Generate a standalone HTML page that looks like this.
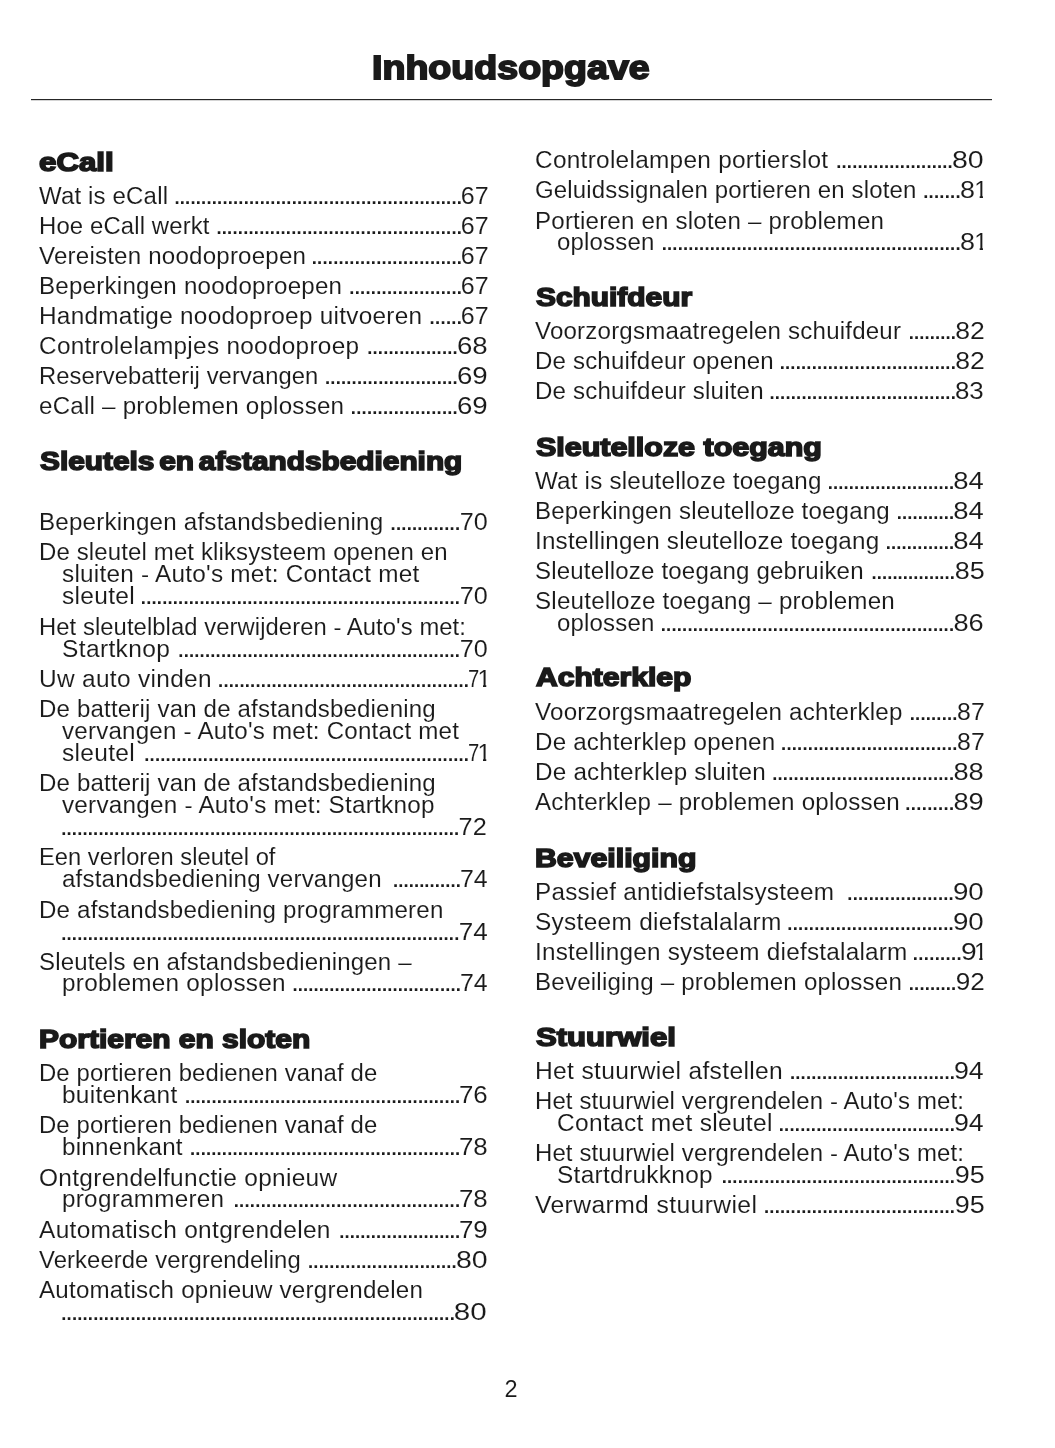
<!DOCTYPE html>
<html lang="nl"><head><meta charset="utf-8"><title>Inhoudsopgave</title>
<style>
html,body{margin:0;padding:0;background:#fff}
body{width:1055px;height:1448px;position:relative;overflow:hidden;will-change:transform;color:#1a1a1a;font-family:"Liberation Sans", sans-serif}
span{position:absolute;white-space:pre;display:block}
.t{transform-origin:0 50%;font-size:23.5px;line-height:30px;-webkit-text-stroke:0.08px #fff}
.n{transform-origin:100% 50%;font-size:24px}
.g{position:static;display:inline-block;transform-origin:0 50%}
.one{clip-path:polygon(0 0,100% 0,100% 20.5px,8.7px 20.5px,8.7px 100%,5.4px 100%,5.4px 20.5px,0 20.5px)}
.d{font-weight:bold;font-size:18.5px;line-height:30px}
.h{transform-origin:0 50%;font-weight:bold;font-size:26px;line-height:30px;-webkit-text-stroke:1.6px #1a1a1a}
.ti{transform-origin:0 50%;font-weight:bold;font-size:33px;line-height:44px;-webkit-text-stroke:1.8px #1a1a1a}
.rule{position:absolute;left:31.4px;top:99px;width:960.6px;height:1px;background:#262626}
.rule2{position:absolute;left:31.4px;top:100px;width:960.6px;height:1px;background:#d4d4d4}
</style></head>
<body>
<div class="rule"></div><div class="rule2"></div>
<span class="t" style="left:39.4px;top:181px;letter-spacing:0.16px;transform:scaleX(1.0215)">Wat is eCall</span>
<span class="t n" style="left:462.25px;top:181px;transform:scaleX(1.043)">67</span>
<span class="d" style="left:174.45px;top:183px;letter-spacing:0.187px">......................................................</span>
<span class="t" style="left:39.4px;top:211px;letter-spacing:0.13px;transform:scaleX(1.0165)">Hoe eCall werkt</span>
<span class="t n" style="left:462.25px;top:211px;transform:scaleX(1.043)">67</span>
<span class="d" style="left:216.45px;top:213px;letter-spacing:0.200px">..............................................</span>
<span class="t" style="left:39.4px;top:241px;letter-spacing:0.2px;transform:scaleX(1.0256)">Vereisten noodoproepen</span>
<span class="t n" style="left:462.25px;top:241px;transform:scaleX(1.043)">67</span>
<span class="d" style="left:311.65px;top:243px;letter-spacing:0.235px">............................</span>
<span class="t" style="left:39.4px;top:271px;letter-spacing:0.22px;transform:scaleX(1.0267)">Beperkingen noodoproepen</span>
<span class="t n" style="left:462.25px;top:271px;transform:scaleX(1.043)">67</span>
<span class="d" style="left:349.25px;top:273px;letter-spacing:0.237px">.....................</span>
<span class="t" style="left:39.4px;top:301px;letter-spacing:0.27px;transform:scaleX(1.0353)">Handmatige noodoproep uitvoeren</span>
<span class="t n" style="left:462.25px;top:301px;transform:scaleX(1.043)">67</span>
<span class="d" style="left:429.5px;top:303px;letter-spacing:0.319px">......</span>
<span class="t" style="left:39.4px;top:331px;letter-spacing:0.28px;transform:scaleX(1.0366)">Controlelampjes noodoproep</span>
<span class="t n" style="left:460.79px;top:331px;transform:scaleX(1.151)">68</span>
<span class="d" style="left:367.15px;top:333px;letter-spacing:0.200px">.................</span>
<span class="t" style="left:39.4px;top:361px;letter-spacing:0.08px;transform:scaleX(1.0108)">Reservebatterij vervangen</span>
<span class="t n" style="left:460.79px;top:361px;transform:scaleX(1.151)">69</span>
<span class="d" style="left:325.05px;top:363px;letter-spacing:0.174px">.........................</span>
<span class="t" style="left:39.4px;top:391px;letter-spacing:0.21px;transform:scaleX(1.0286)">eCall – problemen oplossen</span>
<span class="t n" style="left:460.79px;top:391px;transform:scaleX(1.151)">69</span>
<span class="d" style="left:350.85px;top:393px;letter-spacing:0.215px">....................</span>
<span class="t" style="left:39.4px;top:507px;letter-spacing:0.21px;transform:scaleX(1.0270)">Beperkingen afstandsbediening</span>
<span class="t n" style="left:460.5px;top:507px;transform:scaleX(1.049)">70</span>
<span class="d" style="left:390.55px;top:509px;letter-spacing:0.222px">.............</span>
<span class="t" style="left:39.4px;top:537px;letter-spacing:0.14px;transform:scaleX(1.0196)">De sleutel met kliksysteem openen en</span>
<span class="t" style="left:61.8px;top:559px;letter-spacing:0.24px;transform:scaleX(1.0348)">sluiten - Auto&#x27;s met: Contact met</span>
<span class="t" style="left:61.8px;top:581px;letter-spacing:0.3px;transform:scaleX(1.0424)">sleutel</span>
<span class="t n" style="left:460.5px;top:581px;transform:scaleX(1.049)">70</span>
<span class="d" style="left:140.85px;top:583px;letter-spacing:0.182px">............................................................</span>
<span class="t" style="left:39.4px;top:612px;letter-spacing:0.08px;transform:scaleX(1.0122)">Het sleutelblad verwijderen - Auto&#x27;s met:</span>
<span class="t" style="left:61.8px;top:634px;letter-spacing:0.35px;transform:scaleX(1.0436)">Startknop</span>
<span class="t n" style="left:460.5px;top:634px;transform:scaleX(1.049)">70</span>
<span class="d" style="left:178.35px;top:636px;letter-spacing:0.178px">.....................................................</span>
<span class="t" style="left:39.4px;top:664px;letter-spacing:0.31px;transform:scaleX(1.0393)">Uw auto vinden</span>
<span class="t n" style="left:468.44px;top:664px"><span class="g" style="transform:scaleX(0.845)">7</span><span class="g one" style="margin-left:-4.23px">1</span></span>
<span class="d" style="left:218.05px;top:666px;letter-spacing:0.204px">...............................................</span>
<span class="t" style="left:39.4px;top:694px;letter-spacing:0.17px;transform:scaleX(1.0238)">De batterij van de afstandsbediening</span>
<span class="t" style="left:61.8px;top:716px;letter-spacing:0.2px;transform:scaleX(1.0278)">vervangen - Auto&#x27;s met: Contact met</span>
<span class="t" style="left:61.8px;top:738px;letter-spacing:0.3px;transform:scaleX(1.0424)">sleutel</span>
<span class="t n" style="left:468.44px;top:738px"><span class="g" style="transform:scaleX(0.845)">7</span><span class="g one" style="margin-left:-4.23px">1</span></span>
<span class="d" style="left:144.25px;top:740px;letter-spacing:0.187px">.............................................................</span>
<span class="t" style="left:39.4px;top:768px;letter-spacing:0.17px;transform:scaleX(1.0238)">De batterij van de afstandsbediening</span>
<span class="t" style="left:61.8px;top:790px;letter-spacing:0.23px;transform:scaleX(1.0326)">vervangen - Auto&#x27;s met: Startknop</span>
<span class="t n" style="left:459.86px;top:812px;transform:scaleX(1.054)">72</span>
<span class="d" style="left:61.25px;top:814px;letter-spacing:0.169px">...........................................................................</span>
<span class="t" style="left:39.4px;top:842px;letter-spacing:0.05px;transform:scaleX(1.0064)">Een verloren sleutel of</span>
<span class="t" style="left:61.8px;top:864px;letter-spacing:0.19px;transform:scaleX(1.0244)">afstandsbediening vervangen</span>
<span class="t n" style="left:461.03px;top:864px;transform:scaleX(1.038)">74</span>
<span class="d" style="left:393.06px;top:866px;letter-spacing:0.079px">.............</span>
<span class="t" style="left:39.4px;top:895px;letter-spacing:0.2px;transform:scaleX(1.0251)">De afstandsbediening programmeren</span>
<span class="t n" style="left:460.76px;top:917px;transform:scaleX(1.087)">74</span>
<span class="d" style="left:61.25px;top:919px;letter-spacing:0.170px">...........................................................................</span>
<span class="t" style="left:39.4px;top:947px;letter-spacing:0.16px;transform:scaleX(1.0222)">Sleutels en afstandsbedieningen –</span>
<span class="t" style="left:61.8px;top:968px;letter-spacing:0.27px;transform:scaleX(1.0338)">problemen oplossen</span>
<span class="t n" style="left:461.03px;top:968px;transform:scaleX(1.038)">74</span>
<span class="d" style="left:292.45px;top:970px;letter-spacing:0.126px">................................</span>
<span class="t" style="left:39.4px;top:1058px;letter-spacing:0.12px;transform:scaleX(1.0164)">De portieren bedienen vanaf de</span>
<span class="t" style="left:61.8px;top:1080px;letter-spacing:0.29px;transform:scaleX(1.0371)">buitenkant</span>
<span class="t n" style="left:461.37px;top:1080px;transform:scaleX(1.078)">76</span>
<span class="d" style="left:184.95px;top:1082px;letter-spacing:0.155px">....................................................</span>
<span class="t" style="left:39.4px;top:1110px;letter-spacing:0.12px;transform:scaleX(1.0164)">De portieren bedienen vanaf de</span>
<span class="t" style="left:61.8px;top:1132px;letter-spacing:0.24px;transform:scaleX(1.0292)">binnenkant</span>
<span class="t n" style="left:461.37px;top:1132px;transform:scaleX(1.078)">78</span>
<span class="d" style="left:190.05px;top:1134px;letter-spacing:0.159px">...................................................</span>
<span class="t" style="left:39.4px;top:1163px;letter-spacing:0.3px;transform:scaleX(1.0397)">Ontgrendelfunctie opnieuw</span>
<span class="t" style="left:61.8px;top:1184px;letter-spacing:0.28px;transform:scaleX(1.0312)">programmeren</span>
<span class="t n" style="left:461.37px;top:1184px;transform:scaleX(1.078)">78</span>
<span class="d" style="left:233.65px;top:1186px;letter-spacing:0.259px">..........................................</span>
<span class="t" style="left:39.4px;top:1215px;letter-spacing:0.31px;transform:scaleX(1.0403)">Automatisch ontgrendelen</span>
<span class="t n" style="left:461.37px;top:1215px;transform:scaleX(1.078)">79</span>
<span class="d" style="left:339.25px;top:1217px;letter-spacing:0.123px">.......................</span>
<span class="t" style="left:39.4px;top:1245px;letter-spacing:0.1px;transform:scaleX(1.0132)">Verkeerde vergrendeling</span>
<span class="t n" style="left:461.03px;top:1245px;transform:scaleX(1.188)">80</span>
<span class="d" style="left:308.05px;top:1247px;letter-spacing:0.176px">............................</span>
<span class="t" style="left:39.4px;top:1275px;letter-spacing:0.21px;transform:scaleX(1.0276)">Automatisch opnieuw vergrendelen</span>
<span class="t n" style="left:460.27px;top:1297px;transform:scaleX(1.232)">80</span>
<span class="d" style="left:61.25px;top:1299px;letter-spacing:0.181px">..........................................................................</span>
<span class="t" style="left:534.8px;top:145px;letter-spacing:0.27px;transform:scaleX(1.0379)">Controlelampen portierslot</span>
<span class="t n" style="left:957.03px;top:145px;transform:scaleX(1.188)">80</span>
<span class="d" style="left:836.25px;top:147px;letter-spacing:0.162px">......................</span>
<span class="t" style="left:534.8px;top:175px;letter-spacing:0.15px;transform:scaleX(1.0209)">Geluidssignalen portieren en sloten</span>
<span class="t n" style="left:959.98px;top:175px"><span class="g" style="transform:scaleX(1.120)">8</span><span class="g one" style="margin-left:0.94px">1</span></span>
<span class="d" style="left:923.15px;top:177px;letter-spacing:0.251px">.......</span>
<span class="t" style="left:534.8px;top:206px;letter-spacing:0.19px;transform:scaleX(1.0258)">Portieren en sloten – problemen</span>
<span class="t" style="left:557.2px;top:227px;letter-spacing:0.18px;transform:scaleX(1.0204)">oplossen</span>
<span class="t n" style="left:959.98px;top:227px"><span class="g" style="transform:scaleX(1.120)">8</span><span class="g one" style="margin-left:0.94px">1</span></span>
<span class="d" style="left:661.65px;top:229px;letter-spacing:0.202px">........................................................</span>
<span class="t" style="left:534.8px;top:316px;letter-spacing:0.19px;transform:scaleX(1.0248)">Voorzorgsmaatregelen schuifdeur</span>
<span class="t n" style="left:958.03px;top:316px;transform:scaleX(1.106)">82</span>
<span class="d" style="left:908.85px;top:318px;letter-spacing:0.091px">.........</span>
<span class="t" style="left:534.8px;top:346px;letter-spacing:0.18px;transform:scaleX(1.0228)">De schuifdeur openen</span>
<span class="t n" style="left:958.03px;top:346px;transform:scaleX(1.106)">82</span>
<span class="d" style="left:779.65px;top:348px;letter-spacing:0.205px">.................................</span>
<span class="t" style="left:534.8px;top:376px;letter-spacing:0.18px;transform:scaleX(1.0248)">De schuifdeur sluiten</span>
<span class="t n" style="left:957.33px;top:376px;transform:scaleX(1.079)">83</span>
<span class="d" style="left:769.45px;top:378px;letter-spacing:0.190px">...................................</span>
<span class="t" style="left:534.8px;top:466px;letter-spacing:0.2px;transform:scaleX(1.0285)">Wat is sleutelloze toegang</span>
<span class="t n" style="left:957.3px;top:466px;transform:scaleX(1.144)">84</span>
<span class="d" style="left:827.75px;top:468px;letter-spacing:0.131px">........................</span>
<span class="t" style="left:534.8px;top:496px;letter-spacing:0.18px;transform:scaleX(1.0239)">Beperkingen sleutelloze toegang</span>
<span class="t n" style="left:957.3px;top:496px;transform:scaleX(1.144)">84</span>
<span class="d" style="left:896.8px;top:498px;letter-spacing:0.079px">...........</span>
<span class="t" style="left:534.8px;top:526px;letter-spacing:0.2px;transform:scaleX(1.0300)">Instellingen sleutelloze toegang</span>
<span class="t n" style="left:957.3px;top:526px;transform:scaleX(1.144)">84</span>
<span class="d" style="left:885.75px;top:528px;letter-spacing:0.130px">.............</span>
<span class="t" style="left:534.8px;top:556px;letter-spacing:0.17px;transform:scaleX(1.0237)">Sleutelloze toegang gebruiken</span>
<span class="t n" style="left:957.57px;top:556px;transform:scaleX(1.123)">85</span>
<span class="d" style="left:871.5px;top:558px;letter-spacing:0.079px">................</span>
<span class="t" style="left:534.8px;top:586px;letter-spacing:0.21px;transform:scaleX(1.0283)">Sleutelloze toegang – problemen</span>
<span class="t" style="left:557.2px;top:608px;letter-spacing:0.18px;transform:scaleX(1.0204)">oplossen</span>
<span class="t n" style="left:957.08px;top:608px;transform:scaleX(1.135)">86</span>
<span class="d" style="left:660.75px;top:610px;letter-spacing:0.197px">.......................................................</span>
<span class="t" style="left:534.8px;top:697px;letter-spacing:0.21px;transform:scaleX(1.0272)">Voorzorgsmaatregelen achterklep</span>
<span class="t n" style="left:957.74px;top:697px;transform:scaleX(1.033)">87</span>
<span class="d" style="left:909.75px;top:699px;letter-spacing:0.178px">.........</span>
<span class="t" style="left:534.8px;top:727px;letter-spacing:0.21px;transform:scaleX(1.0265)">De achterklep openen</span>
<span class="t n" style="left:957.74px;top:727px;transform:scaleX(1.033)">87</span>
<span class="d" style="left:781.05px;top:729px;letter-spacing:0.211px">.................................</span>
<span class="t" style="left:534.8px;top:757px;letter-spacing:0.22px;transform:scaleX(1.0308)">De achterklep sluiten</span>
<span class="t n" style="left:957.08px;top:757px;transform:scaleX(1.135)">88</span>
<span class="d" style="left:772.15px;top:759px;letter-spacing:0.218px">..................................</span>
<span class="t" style="left:534.8px;top:787px;letter-spacing:0.21px;transform:scaleX(1.0273)">Achterklep – problemen oplossen</span>
<span class="t n" style="left:957.08px;top:787px;transform:scaleX(1.135)">89</span>
<span class="d" style="left:905.35px;top:789px;letter-spacing:0.316px">.........</span>
<span class="t" style="left:534.8px;top:877px;letter-spacing:0.23px;transform:scaleX(1.0328)">Passief antidiefstalsysteem</span>
<span class="t n" style="left:957.1px;top:877px;transform:scaleX(1.154)">90</span>
<span class="d" style="left:847.35px;top:879px;letter-spacing:0.186px">....................</span>
<span class="t" style="left:534.8px;top:907px;letter-spacing:0.29px;transform:scaleX(1.0393)">Systeem diefstalalarm</span>
<span class="t n" style="left:957.1px;top:907px;transform:scaleX(1.154)">90</span>
<span class="d" style="left:787.25px;top:909px;letter-spacing:0.236px">...............................</span>
<span class="t" style="left:534.8px;top:937px;letter-spacing:0.23px;transform:scaleX(1.0336)">Instellingen systeem diefstalalarm</span>
<span class="t n" style="left:960.93px;top:937px"><span class="g" style="transform:scaleX(1.173)">9</span><span class="g one" style="margin-left:-0.41px">1</span></span>
<span class="d" style="left:912.82px;top:939px;letter-spacing:0.319px">.........</span>
<span class="t" style="left:534.8px;top:967px;letter-spacing:0.19px;transform:scaleX(1.0266)">Beveiliging – problemen oplossen</span>
<span class="t n" style="left:957.8px;top:967px;transform:scaleX(1.086)">92</span>
<span class="d" style="left:908.85px;top:969px;letter-spacing:0.128px">.........</span>
<span class="t" style="left:534.8px;top:1056px;letter-spacing:0.31px;transform:scaleX(1.0462)">Het stuurwiel afstellen</span>
<span class="t n" style="left:957.28px;top:1056px;transform:scaleX(1.112)">94</span>
<span class="d" style="left:789.95px;top:1058px;letter-spacing:0.188px">...............................</span>
<span class="t" style="left:534.8px;top:1086px;letter-spacing:0.13px;transform:scaleX(1.0186)">Het stuurwiel vergrendelen - Auto&#x27;s met:</span>
<span class="t" style="left:557.2px;top:1108px;letter-spacing:0.3px;transform:scaleX(1.0425)">Contact met sleutel</span>
<span class="t n" style="left:957.28px;top:1108px;transform:scaleX(1.112)">94</span>
<span class="d" style="left:778.75px;top:1110px;letter-spacing:0.205px">.................................</span>
<span class="t" style="left:534.8px;top:1138px;letter-spacing:0.13px;transform:scaleX(1.0186)">Het stuurwiel vergrendelen - Auto&#x27;s met:</span>
<span class="t" style="left:557.2px;top:1160px;letter-spacing:0.3px;transform:scaleX(1.0379)">Startdrukknop</span>
<span class="t n" style="left:957.57px;top:1160px;transform:scaleX(1.123)">95</span>
<span class="d" style="left:721.75px;top:1162px;letter-spacing:0.163px">............................................</span>
<span class="t" style="left:534.8px;top:1190px;letter-spacing:0.38px;transform:scaleX(1.0495)">Verwarmd stuurwiel</span>
<span class="t n" style="left:957.57px;top:1190px;transform:scaleX(1.123)">95</span>
<span class="d" style="left:764.05px;top:1192px;letter-spacing:0.167px">....................................</span>
<span class="h" style="left:39.4px;top:147px;transform:scaleX(1.202)">eCall</span>
<span class="h" style="left:40.09px;top:446px;transform:scaleX(1.147);word-spacing:-3px">Sleutels en afstandsbediening</span>
<span class="h" style="left:38.94px;top:1024px;transform:scaleX(1.152)">Portieren en sloten</span>
<span class="h" style="left:536.19px;top:282px;transform:scaleX(1.149)">Schuifdeur</span>
<span class="h" style="left:536.19px;top:432px;transform:scaleX(1.171)">Sleutelloze toegang</span>
<span class="h" style="left:536.48px;top:662px;transform:scaleX(1.157)">Achterklep</span>
<span class="h" style="left:535.03px;top:843px;transform:scaleX(1.164)">Beveiliging</span>
<span class="h" style="left:536.2px;top:1022px;transform:scaleX(1.196)">Stuurwiel</span>
<span class="ti" style="left:372.38px;top:46px;transform:scaleX(1.139)">Inhoudsopgave</span>
<span class="t" style="left:504.6px;top:1374px">2</span>
</body></html>
